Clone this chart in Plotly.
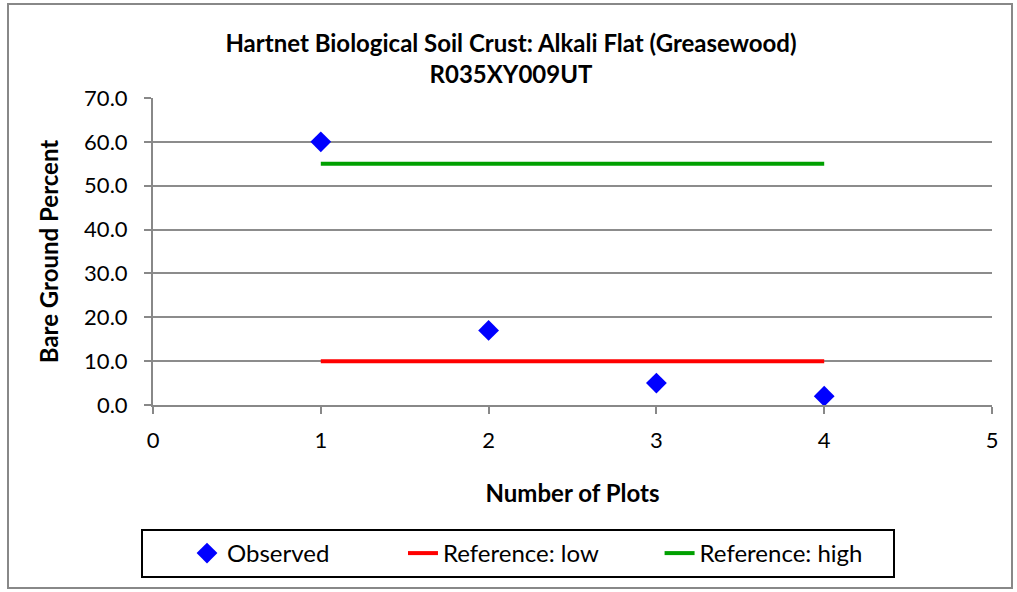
import plotly.graph_objects as go

# data
plots = [1, 2, 3, 4]
observed = [60.0, 17.0, 5.0, 2.0]
ref_x = [1, 4]
ref_low = [10.0, 10.0]
ref_high = [55.0, 55.0]
legend_names = ["Observed", "Reference: low", "Reference: high"]

font_family = "Lato, Open Sans, Arial"
pad = "&nbsp;"

fig = go.Figure()
fig.add_trace(go.Scatter(
    x=plots, y=observed, mode="markers", name=legend_names[0] + pad * 4,
    marker=dict(symbol="diamond", color="#0000ff", size=16),
))
fig.add_trace(go.Scatter(
    x=ref_x, y=ref_low, mode="lines", name=legend_names[1] + pad * 2,
    line=dict(color="#ff0000", width=4),
))
fig.add_trace(go.Scatter(
    x=ref_x, y=ref_high, mode="lines", name=legend_names[2] + pad * 4,
    line=dict(color="#00a000", width=4),
))

W, H = 1017, 592
L, R, T, B = 153, 25, 98, 187
pw, ph = W - L - R, H - T - B


def px_x(v):
    return (v - L) / pw


def px_y(v):
    return (H - B - v) / ph


fig.update_layout(
    width=W, height=H,
    margin=dict(l=L, r=R, t=T, b=B),
    paper_bgcolor="white", plot_bgcolor="white",
    font=dict(family=font_family, size=22, color="black"),
    title=dict(
        text="<b>Hartnet Biological Soil Crust: Alkali Flat (Greasewood)<br>R035XY009UT</b>",
        x=511 / W, xref="container", xanchor="center",
        y=1 - 52 / H, yanchor="middle",
        font=dict(size=24),
    ),
    showlegend=True,
    legend=dict(
        orientation="h",
        x=px_x(141), xanchor="left",
        y=px_y(529), yanchor="top",
        bordercolor="black", borderwidth=2,
        font=dict(size=24),
        itemwidth=30,
        indentation=44,
    ),
    xaxis=dict(
        range=[0, 5], dtick=1, tick0=0,
        showgrid=False, zeroline=False,
        showline=True, linecolor="#888888", linewidth=2,
        ticks="outside", ticklen=7, tickcolor="#888888", tickwidth=2,
        tickfont=dict(size=22), ticklabelstandoff=8,
        title=dict(text="<b>Number of Plots</b>", font=dict(size=24), standoff=33),
    ),
    yaxis=dict(
        range=[0, 70], dtick=10, tick0=0, tickformat=".1f",
        showgrid=True, gridcolor="#8c8c8c", gridwidth=2,
        zeroline=False,
        showline=True, linecolor="#888888", linewidth=2,
        ticks="outside", ticklen=7, tickcolor="#888888", tickwidth=2,
        tickfont=dict(size=22), ticklabelstandoff=12,
        title=dict(text="<b>Bare Ground Percent</b>", font=dict(size=24), standoff=19),
    ),
    shapes=[dict(
        type="rect", xref="paper", yref="paper",
        x0=px_x(8), x1=px_x(1012), y0=px_y(588), y1=px_y(4),
        line=dict(color="#888888", width=2), layer="below",
    )],
)

fig.write_html("out.html", config={"displayModeBar": False},
               post_script="document.body.style.margin='0';")
